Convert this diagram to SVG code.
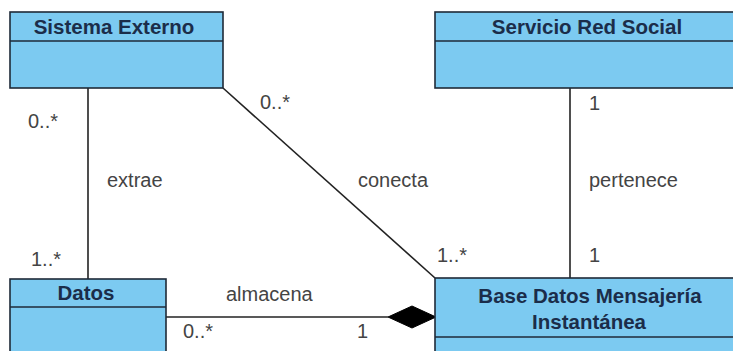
<svg xmlns="http://www.w3.org/2000/svg" width="733" height="351" viewBox="0 0 733 351">
  <style>
    .box { fill: #7ccaf1; stroke: #1e2a38; stroke-width: 1.6; }
    .div { stroke: #1e2a38; stroke-width: 1.6; }
    .title { font-family: "Liberation Sans", Arial, sans-serif; font-weight: bold; font-size: 20.5px; fill: #1b2d4a; text-anchor: middle; }
    .edge { stroke: #222; stroke-width: 1.6; fill: none; }
    .lbl { font-family: "Liberation Sans", Arial, sans-serif; font-size: 20px; fill: #444; }
  </style>
  <rect width="733" height="351" fill="#ffffff"/>

  <g id="connectors">
    <!-- extrae -->
    <line class="edge" x1="88" y1="88" x2="88" y2="279"/>
    <!-- conecta -->
    <line class="edge" x1="223" y1="88" x2="435" y2="278"/>
    <!-- pertenece -->
    <line class="edge" x1="570" y1="88" x2="570" y2="278"/>
    <!-- almacena (composition) -->
    <line class="edge" x1="166" y1="317" x2="388" y2="317"/>
    <polygon points="388,317 412,306 436,317 412,328" fill="#000" stroke="#000" stroke-width="1"/>

    <text class="lbl" x="28" y="128">0..*</text>
    <text class="lbl" x="107" y="187">extrae</text>
    <text class="lbl" x="31" y="266">1..*</text>

    <text class="lbl" x="260" y="109">0..*</text>
    <text class="lbl" x="358" y="187">conecta</text>
    <text class="lbl" x="437" y="262">1..*</text>

    <text class="lbl" x="589" y="110">1</text>
    <text class="lbl" x="589" y="187">pertenece</text>
    <text class="lbl" x="589" y="262">1</text>

    <text class="lbl" x="226" y="301">almacena</text>
    <text class="lbl" x="183" y="338">0..*</text>
    <text class="lbl" x="357" y="338">1</text>
  </g>

  <g id="sistema-externo">
    <rect class="box" x="10" y="12" width="213" height="76"/>
    <line class="div" x1="10" y1="41" x2="223" y2="41"/>
    <text class="title" x="114" y="34">Sistema Externo</text>
  </g>

  <g id="servicio-red-social">
    <rect class="box" x="435" y="12" width="306" height="76"/>
    <line class="div" x1="435" y1="41" x2="741" y2="41"/>
    <text class="title" x="587" y="34">Servicio Red Social</text>
  </g>

  <g id="datos">
    <rect class="box" x="10" y="279" width="156" height="80"/>
    <line class="div" x1="10" y1="307" x2="166" y2="307"/>
    <text class="title" x="86" y="300">Datos</text>
  </g>

  <g id="base-datos-mensajeria">
    <rect class="box" x="435" y="278" width="306" height="81"/>
    <line class="div" x1="435" y1="337" x2="741" y2="337"/>
    <text class="title" x="590" y="303">Base Datos Mensajería</text>
    <text class="title" x="589" y="329">Instantánea</text>
  </g>
</svg>
